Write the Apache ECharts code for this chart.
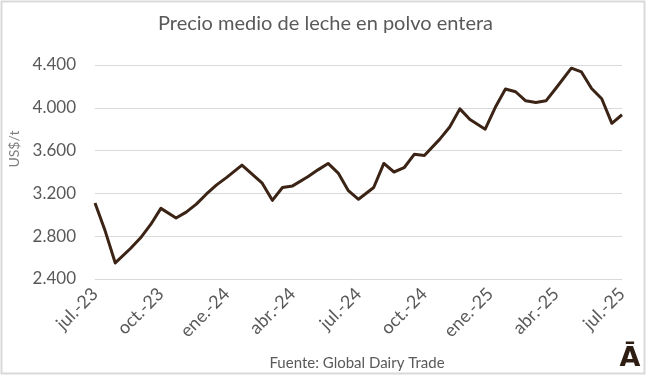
<!DOCTYPE html>
<html>
<head>
<meta charset="utf-8">
<script src="https://cdn.jsdelivr.net/npm/echarts@6/dist/echarts.min.js"></script>
<style>
  html, body { margin: 0; padding: 0; background: #fff; }
  #chart { width: 651px; height: 376px; }
</style>
</head>
<body>
<div id="chart"></div>
<script>
// fechas de subasta GDT (quincenales)
const auctionDates = [
  '2023-07-18','2023-08-01','2023-08-15','2023-09-05','2023-09-19','2023-10-03','2023-10-17',
  '2023-11-07','2023-11-21','2023-12-05','2023-12-19',
  '2024-01-02','2024-01-16','2024-02-06','2024-02-20','2024-03-05','2024-03-19','2024-04-02',
  '2024-04-16','2024-05-07','2024-05-21','2024-06-04','2024-06-18','2024-07-02','2024-07-16',
  '2024-08-06','2024-08-20','2024-09-03','2024-09-17','2024-10-01','2024-10-15','2024-11-05',
  '2024-11-19','2024-12-03','2024-12-17',
  '2025-01-07','2025-01-21','2025-02-04','2025-02-18','2025-03-04','2025-03-18','2025-04-01',
  '2025-04-15','2025-05-06','2025-05-20','2025-06-03','2025-06-17','2025-07-01','2025-07-15'
]
// precio medio US$/t
const prices = [
  3110, 2850, 2550, 2685, 2785, 2910, 3060, 2970, 3025, 3100, 3195,
  3280, 3350, 3465, 3380, 3295, 3135, 3255, 3270, 3355, 3420, 3480, 3390, 3225, 3145,
  3255, 3480, 3400, 3440, 3565, 3555, 3705, 3820, 3990, 3890,
  3800, 4005, 4175, 4150, 4065, 4050, 4065, 4185, 4370, 4335, 4180, 4085, 3855, 3935
]
const monthNames = ['ene','feb','mar','abr','may','jun','jul','ago','sep','oct','nov','dic']
const yMin = 2400, yMax = 4400, yStep = 400

const DAY = 86400000
const t0 = Date.parse(auctionDates[0] + 'T00:00:00Z')
const dayOf = d => Math.round((Date.parse(d + 'T00:00:00Z') - t0) / DAY)
const lastDay = dayOf(auctionDates[auctionDates.length - 1])
const seriesData = auctionDates.map((d, i) => [dayOf(d), prices[i]])

const txt = '#595959'
const font = 'Lato, "Open Sans", sans-serif'

let myChart = echarts.init(document.getElementById('chart'))
let option = {
  animation: false,
  backgroundColor: '#fff',
  title: {
    text: 'Precio medio de leche en polvo entera',
    left: 'center',
    top: 9,
    textStyle: { color: txt, fontSize: 20, fontWeight: 'normal', fontFamily: font }
  },
  grid: { left: 95, right: 29, top: 65, bottom: 97 },
  xAxis: {
    type: 'value',
    min: 0,
    max: lastDay,
    interval: lastDay / 8,
    axisLine: { show: true, lineStyle: { color: '#d9d9d9', width: 1 } },
    axisTick: { show: false },
    splitLine: { show: false },
    axisLabel: {
      rotate: 45,
      margin: 12,
      color: txt,
      fontSize: 18,
      fontFamily: font,
      formatter: v => {
        let d = new Date(t0 + v * DAY)
        return monthNames[d.getUTCMonth()] + '.-' + String(d.getUTCFullYear()).slice(2)
      }
    }
  },
  yAxis: {
    type: 'value',
    min: yMin,
    max: yMax,
    interval: yStep,
    axisLine: { show: false },
    axisTick: { show: false },
    splitLine: { lineStyle: { color: '#d9d9d9', width: 1 } },
    axisLabel: {
      margin: 19,
      color: txt,
      fontSize: 17,
      fontFamily: font,
      formatter: v => String(v).replace(/\B(?=(\d{3})+(?!\d))/g, '.')
    }
  },
  graphic: [
    {
      type: 'rect',
      shape: { x: 1.5, y: 1.5, width: 643, height: 372 },
      style: { fill: 'none', stroke: '#d9d9d9', lineWidth: 2 },
      silent: true
    },
    {
      type: 'text',
      x: 14, y: 149,
      rotation: Math.PI / 2,
      style: {
        text: 'US$/t', fill: '#7f7f7f', fontSize: 14, fontFamily: font,
        textAlign: 'center', textVerticalAlign: 'middle'
      }
    },
    {
      type: 'text',
      x: 357, y: 363,
      style: {
        text: 'Fuente: Global Dairy Trade', fill: txt, fontSize: 15, fontFamily: font,
        textAlign: 'center', textVerticalAlign: 'middle'
      }
    },
    {
      type: 'text',
      x: 630, y: 359,
      style: {
        text: 'Ā', fill: '#2e1d12', fontSize: 27, fontWeight: 'bold',
        fontFamily: '"DejaVu Sans", sans-serif',
        textAlign: 'center', textVerticalAlign: 'middle'
      }
    }
  ],
  series: [
    {
      name: 'Precio medio',
      type: 'line',
      data: seriesData,
      showSymbol: false,
      symbol: 'none',
      lineStyle: { color: '#3b2415', width: 3, join: 'round' }
    }
  ]
}
myChart.setOption(option, true)
</script>
</body>
</html>
